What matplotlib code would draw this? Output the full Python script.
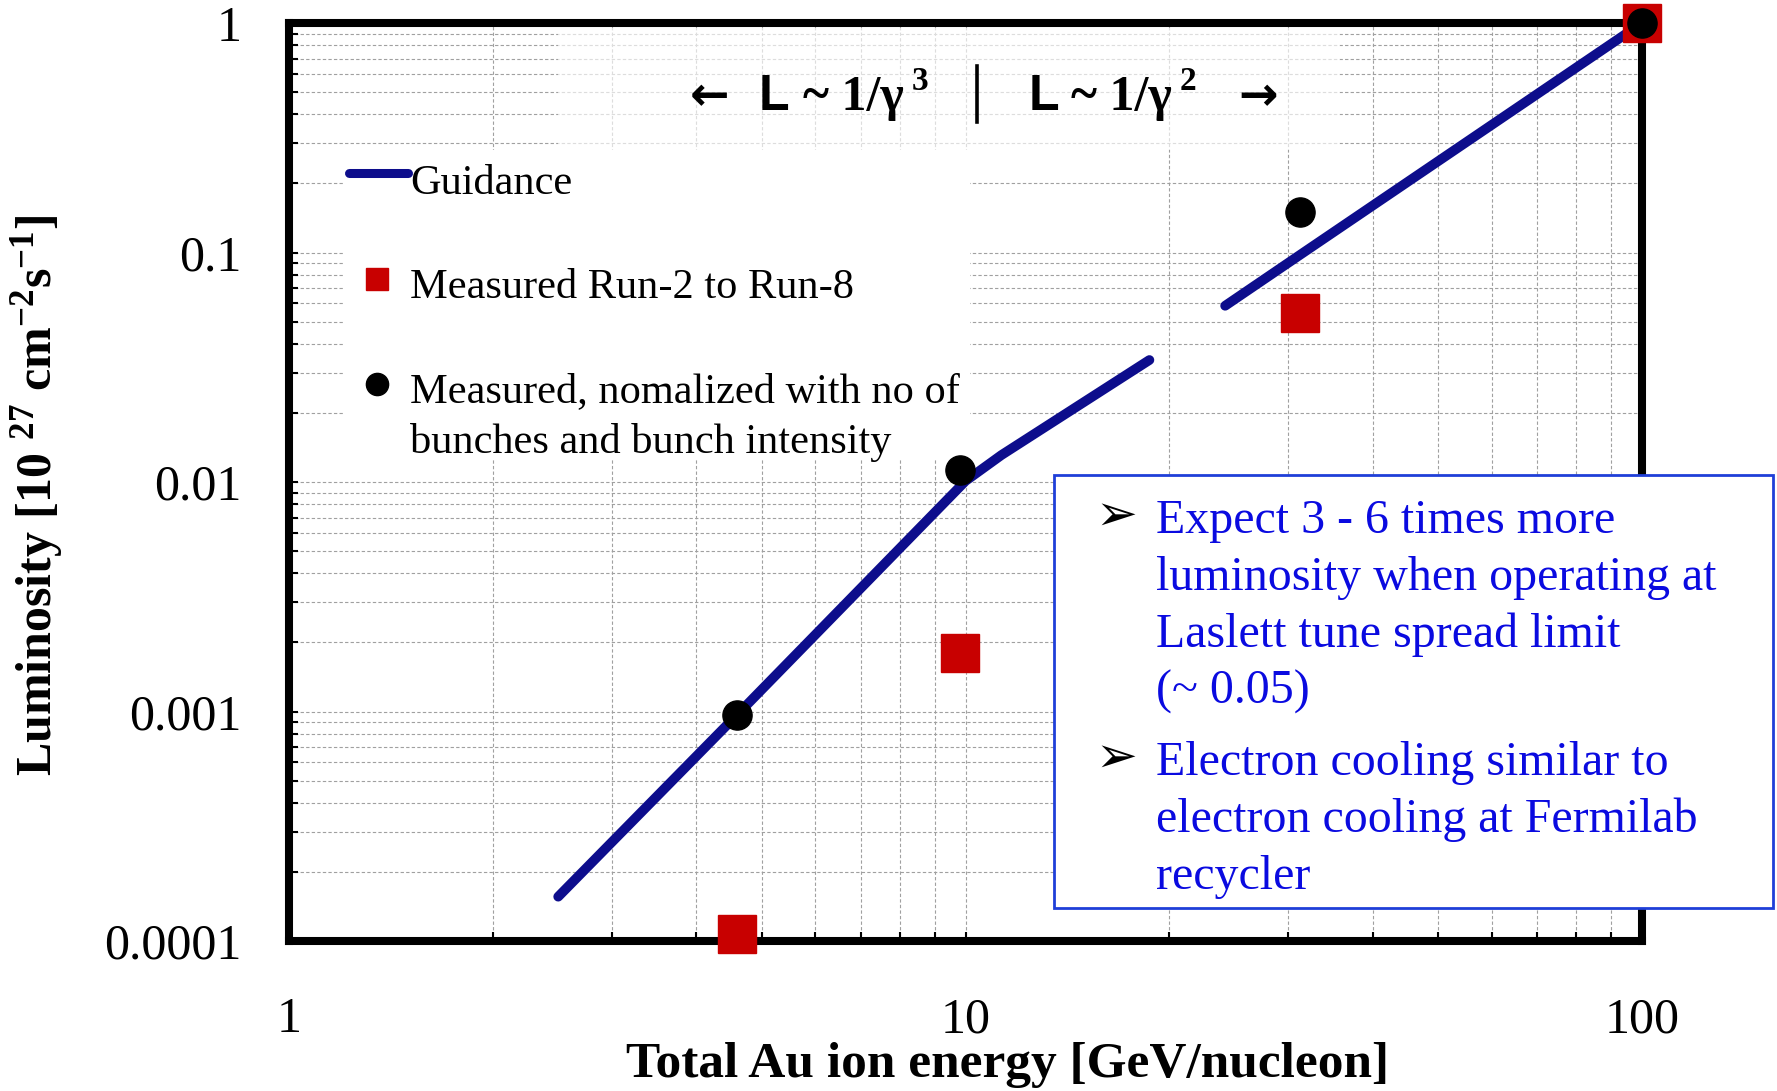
import matplotlib
matplotlib.use("Agg")
import matplotlib.pyplot as plt
from matplotlib.lines import Line2D
from matplotlib.patches import Rectangle
from matplotlib.ticker import FixedLocator, FixedFormatter, LogLocator, NullFormatter

# --- Adatok ---
guide_lo_energy = [2.5, 4.6, 10.0, 11.3, 18.7]
guide_lo_lumi = [1.56e-4, 9.7e-4, 1.01e-2, 1.31e-2, 3.4e-2]
guide_hi_energy = [24.2, 31.2, 100.0]
guide_hi_lumi = [0.0586, 0.0975, 1.0]

run_energy = [4.6, 9.8, 31.2, 100.0]
run_lumi = [1.07e-4, 1.8e-3, 0.0545, 1.0]

norm_energy = [4.6, 9.8, 31.2, 100.0]
norm_lumi = [9.7e-4, 0.0113, 0.150, 1.0]

x_ticks = [1, 10, 100]
x_tick_labels = ['1', '10', '100']
y_ticks = [1e-4, 1e-3, 1e-2, 1e-1, 1]
y_tick_labels = ['0.0001', '0.001', '0.01', '0.1', '1']

bullet_lines = [
    ["Expect 3 - 6 times more", "luminosity when operating at",
     "Laslett tune spread limit", "(~ 0.05)"],
    ["Electron cooling similar to", "electron cooling at Fermilab", "recycler"],
]

# --- Stílus ---
plt.rcParams['font.family'] = ['Liberation Serif', 'DejaVu Sans']
plt.rcParams['mathtext.fontset'] = 'custom'
plt.rcParams['mathtext.rm'] = 'Liberation Serif:bold'
plt.rcParams['mathtext.bf'] = 'Liberation Serif:bold'
plt.rcParams['mathtext.it'] = 'Liberation Serif:bold:italic'
plt.rcParams['mathtext.default'] = 'rm'

NAVY = '#0d0d8c'
RED = '#c80000'
BLUE_TXT = '#0a0ae0'
BLUE_BOX = '#1f3fd8'

W, H = 1777, 1091
fig = plt.figure(figsize=(W / 100, H / 100), dpi=100)


def px(x, y):
    # képpont -> ábra koordináta
    return x / W, 1 - y / H


ax = fig.add_axes([289 / W, 1 - 941 / H, (1642 - 289) / W, (941 - 23) / H])
ax.set_xscale('log')
ax.set_yscale('log')
ax.set_xlim(1, 100)
ax.set_ylim(1e-4, 1)

ax.xaxis.set_major_locator(FixedLocator(x_ticks))
ax.xaxis.set_major_formatter(FixedFormatter(x_tick_labels))
ax.yaxis.set_major_locator(FixedLocator(y_ticks))
ax.yaxis.set_major_formatter(FixedFormatter(y_tick_labels))
ax.xaxis.set_minor_locator(LogLocator(base=10, subs=range(2, 10)))
ax.yaxis.set_minor_locator(LogLocator(base=10, subs=range(2, 10)))
ax.xaxis.set_minor_formatter(NullFormatter())
ax.yaxis.set_minor_formatter(NullFormatter())

ax.grid(True, which='both', color='#a0a0a0', linestyle=(0, (3, 2)), linewidth=0.8)
ax.set_axisbelow(True)
ax.tick_params(which='both', direction='in', length=6.5, width=1.5, labelsize=36)
ax.tick_params(axis='y', pad=34)
ax.tick_params(axis='x', pad=40)
for s in ax.spines.values():
    s.set_linewidth(5.8)
    s.set_capstyle('projecting')

# fehér hátterek a feliratok mögött
ax.add_patch(Rectangle(px(343, 460), (970 - 343) / W, (460 - 150) / H,
                       transform=fig.transFigure, fc='white', ec='none', zorder=1))
ax.add_patch(Rectangle(px(558, 150), (1340 - 558) / W, (150 - 28) / H,
                       transform=fig.transFigure, fc='white', ec='none', alpha=0.65, zorder=1))

# --- Görbék és mérési pontok ---
ax.plot(guide_lo_energy, guide_lo_lumi, color=NAVY, lw=7, solid_capstyle='round',
        solid_joinstyle='round', zorder=2.6)
ax.plot(guide_hi_energy, guide_hi_lumi, color=NAVY, lw=7, solid_capstyle='round',
        solid_joinstyle='round', zorder=2.6)
ax.plot(run_energy, run_lumi, 's', color=RED, ms=28, mec=RED, clip_on=False, zorder=3)
ax.plot(norm_energy, norm_lumi, 'o', color='black', ms=21, clip_on=False, zorder=4)

# --- Tengelyfeliratok ---
ax.set_xlabel('Total Au ion energy [GeV/nucleon]', fontsize=37, fontweight='bold', va='center')
ax.xaxis.set_label_coords(0.531, -0.135)
ax.set_ylabel('Luminosity [10 $^{27}$ cm$^{-2}$s$^{-1}$]', fontsize=36, fontweight='bold', va='center')
ax.yaxis.set_label_coords(-0.1862, 0.485)

# --- Jelmagyarázat ---
fig.add_artist(Line2D([349 / W, 408 / W], [1 - 173 / H] * 2, color=NAVY, lw=6.5,
                      solid_capstyle='round', zorder=5))
fig.add_artist(Line2D([377 / W], [1 - 279 / H], marker='s', ms=16, color=RED, lw=0, zorder=5))
fig.add_artist(Line2D([377 / W], [1 - 384 / H], marker='o', ms=16, color='black', lw=0, zorder=5))
fig.text(*px(410, 194), 'Guidance', fontsize=30.5, va='baseline', zorder=5)
fig.text(*px(410, 298), 'Measured Run-2 to Run-8', fontsize=30.5, va='baseline', zorder=5)
fig.text(*px(410, 402), 'Measured, nomalized with no of', fontsize=30.5, va='baseline', zorder=5)
fig.text(*px(410, 453), 'bunches and bunch intensity', fontsize=30.5, va='baseline', zorder=5)

# --- Felső felirat: L ~ 1/gamma^3 | L ~ 1/gamma^2 ---
fig.text(*px(710, 110), '\u2190', family='DejaVu Sans', fontsize=34, fontweight='bold',
         ha='center', va='baseline', zorder=5)
fig.text(*px(759, 110), 'L', family='Liberation Sans', fontsize=36, fontweight='bold',
         va='baseline', zorder=5)
fig.text(*px(803, 110), '~ 1/\u03b3', fontsize=36, fontweight='bold', va='baseline', zorder=5)
fig.text(*px(912, 90), '3', fontsize=24, fontweight='bold', va='baseline', zorder=5)
fig.add_artist(Line2D([977 / W] * 2, [1 - 66 / H, 1 - 122 / H], color='black', lw=2.6, zorder=5))
fig.text(*px(1029, 110), 'L', family='Liberation Sans', fontsize=36, fontweight='bold',
         va='baseline', zorder=5)
fig.text(*px(1071, 110), '~ 1/\u03b3', fontsize=36, fontweight='bold', va='baseline', zorder=5)
fig.text(*px(1180, 90), '2', fontsize=24, fontweight='bold', va='baseline', zorder=5)
fig.text(*px(1258, 110), '\u2192', family='DejaVu Sans', fontsize=34, fontweight='bold',
         ha='center', va='baseline', zorder=5)

# --- Szövegdoboz jobbra ---
fig.add_artist(Rectangle(px(1054, 908), (1773 - 1054) / W, (908 - 475) / H,
                         transform=fig.transFigure, fc='white', ec=BLUE_BOX, lw=2, zorder=5))
baselines = [[533, 590, 647, 704], [775, 832, 889]]
for lines, ys in zip(bullet_lines, baselines):
    fig.text(*px(1116, ys[0] - 17), '\u27a2', family='DejaVu Sans', fontsize=36,
             ha='center', va='center', zorder=6)
    for txt, y in zip(lines, ys):
        fig.text(*px(1156, y), txt, fontsize=34.5, color=BLUE_TXT, va='baseline', zorder=6)

fig.savefig('out.png', dpi=100)
